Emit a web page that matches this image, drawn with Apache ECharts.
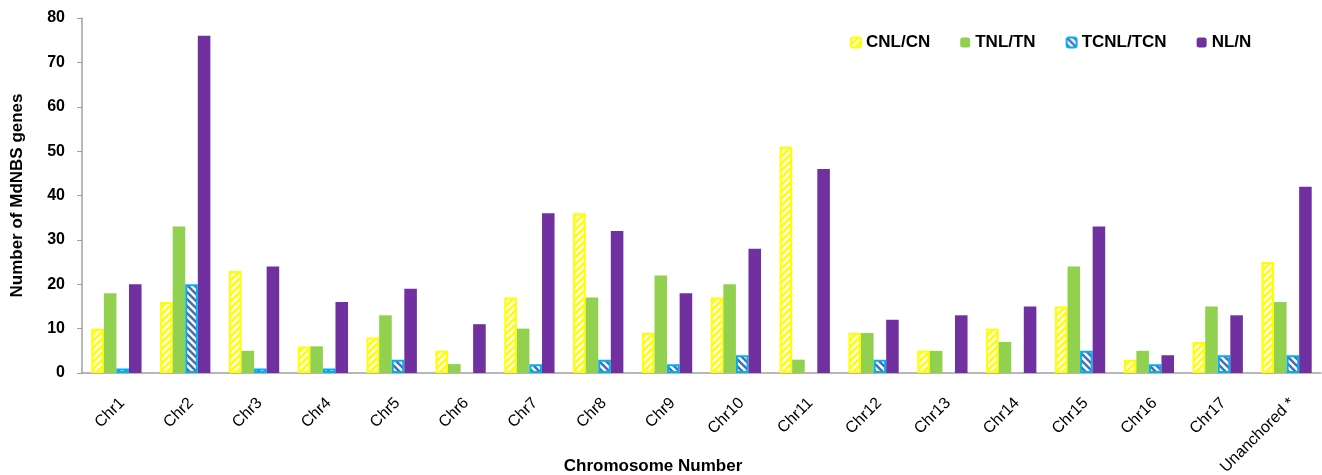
<!DOCTYPE html>
<html>
<head>
<meta charset="utf-8">
<script src="https://cdn.jsdelivr.net/npm/echarts@6/dist/echarts.min.js"></script>
<style>
  html, body { margin: 0; padding: 0; background: #fff; }
  #chart { width: 1322px; height: 475px; }
</style>
</head>
<body>
<div id="chart"></div>
<script>
// Chromosomes and gene counts per NBS class
const chromosomes = ['Chr1','Chr2','Chr3','Chr4','Chr5','Chr6','Chr7','Chr8','Chr9','Chr10',
                     'Chr11','Chr12','Chr13','Chr14','Chr15','Chr16','Chr17','Unanchored *'];
const cnl  = [10, 16, 23, 6, 8, 5, 17, 36, 9, 17, 51, 9, 5, 10, 15, 3, 7, 25];
const tnl  = [18, 33, 5, 6, 13, 2, 10, 17, 22, 20, 3, 9, 5, 7, 24, 5, 15, 16];
const tcnl = [1, 20, 1, 1, 3, 0, 2, 3, 2, 4, 0, 3, 0, 0, 5, 2, 4, 4];
const nl   = [20, 76, 24, 16, 19, 11, 36, 32, 18, 28, 46, 12, 13, 15, 33, 4, 13, 42];
const seriesNames = ['CNL/CN', 'TNL/TN', 'TCNL/TCN', 'NL/N'];
const yTicks = [0, 10, 20, 30, 40, 50, 60, 70, 80];

const FONT = '"Liberation Sans", Arial, sans-serif';

// Zero counts draw no bar at all (no stray border line on the axis)
const asBars = arr => arr.map(v => (v === 0 ? null : v));

// Diagonal stripe tile used as a bar fill
function stripes(color, dir) {
  const s = 7;
  const c = document.createElement('canvas');
  c.width = s; c.height = s;
  const g = c.getContext('2d');
  g.fillStyle = '#ffffff';
  g.fillRect(0, 0, s, s);
  g.strokeStyle = color;
  g.lineWidth = 2.6;
  g.beginPath();
  for (let k = -1; k <= 1; k++) {
    if (dir > 0) {          // "/" direction
      g.moveTo(k * s - 1, s + 1);
      g.lineTo(k * s + s + 1, -1);
    } else {                // "\" direction
      g.moveTo(k * s - 1, -1);
      g.lineTo(k * s + s + 1, s + 1);
    }
  }
  g.stroke();
  return { image: c, repeat: 'repeat' };
}

const chart = echarts.init(document.getElementById('chart'), null, { renderer: 'canvas' });

const barCommon = { type: 'bar', barGap: '0%', barCategoryGap: '27%' };

chart.setOption({
  animation: false,
  backgroundColor: '#ffffff',
  grid: { left: 82, right: 1, top: 18, bottom: 102, containLabel: false, outerBoundsMode: 'none' },
  legend: {
    left: 845, top: 29,
    itemWidth: 10, itemHeight: 10, itemGap: 30,
    textStyle: { fontFamily: FONT, fontWeight: 'bold', fontSize: 17, color: '#000' },
    data: seriesNames
  },
  xAxis: {
    type: 'category',
    data: chromosomes,
    axisLine: { lineStyle: { color: '#a0a0a0', width: 1.5 } },
    axisTick: { show: false },
    axisLabel: {
      interval: 0, rotate: 45, margin: 22,
      verticalAlign: 'top',
      fontFamily: FONT, fontSize: 16, color: '#000'
    }
  },
  yAxis: {
    type: 'value',
    min: 0, max: 80, interval: 10,
    name: 'Number of MdNBS genes',
    nameLocation: 'middle',
    nameGap: 56,
    nameTextStyle: { fontFamily: FONT, fontWeight: 'bold', fontSize: 17, color: '#000' },
    axisLine: { show: true, lineStyle: { color: '#a0a0a0', width: 1.5 } },
    axisTick: { show: true, length: 5, lineStyle: { color: '#a0a0a0' } },
    splitLine: { show: false },
    axisLabel: {
      margin: 17,
      fontFamily: FONT, fontWeight: 'bold', fontSize: 16, color: '#000',
      formatter: v => (yTicks.includes(v) ? String(v) : '')
    }
  },
  graphic: [{
    type: 'text',
    x: 653, y: 466,
    style: {
      text: 'Chromosome Number',
      font: 'bold 17px ' + FONT,
      fill: '#000',
      textAlign: 'center',
      textVerticalAlign: 'middle'
    }
  }],
  series: [
    Object.assign({}, barCommon, {
      name: seriesNames[0], data: asBars(cnl),
      itemStyle: { color: stripes('#ffff00', 1), borderColor: '#ffff00', borderWidth: 2 }
    }),
    Object.assign({}, barCommon, {
      name: seriesNames[1], data: asBars(tnl),
      itemStyle: { color: '#92d050' }
    }),
    Object.assign({}, barCommon, {
      name: seriesNames[2], data: asBars(tcnl),
      itemStyle: { color: stripes('#4a6fb0', -1), borderColor: '#00b0f0', borderWidth: 2 }
    }),
    Object.assign({}, barCommon, {
      name: seriesNames[3], data: asBars(nl),
      itemStyle: { color: '#7030a0' }
    })
  ]
});
</script>
</body>
</html>
